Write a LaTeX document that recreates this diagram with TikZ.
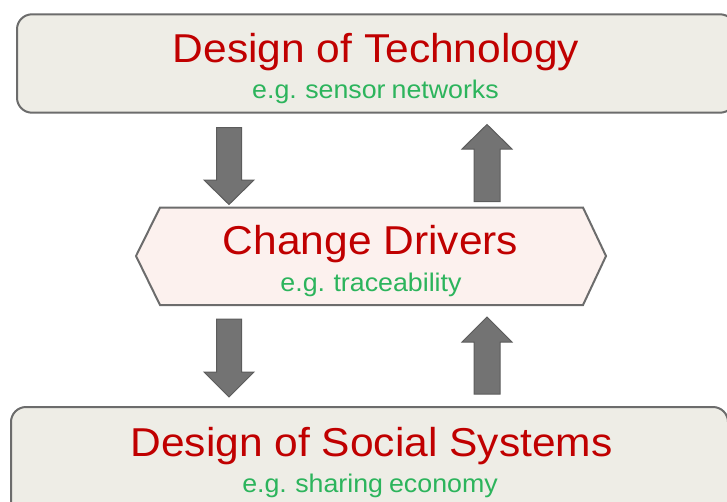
\documentclass[tikz,border=0pt]{standalone}
\usepackage{fontspec}
\setmainfont{Liberation Sans}
\newfontfamily\titlefont[FakeStretch=1.055]{Liberation Sans}
\newfontfamily\subfont[FakeStretch=1.05,WordSpace=0.8]{Liberation Sans}
\definecolor{boxfill}{RGB}{238,237,230}
\definecolor{hexfill}{RGB}{252,241,238}
\definecolor{edgegray}{RGB}{108,108,108}
\definecolor{titlered}{RGB}{192,0,0}
\definecolor{subgreen}{RGB}{44,180,92}
\definecolor{arrowfill}{RGB}{115,115,115}
\definecolor{arrowedge}{RGB}{92,92,92}
\begin{document}
\begin{tikzpicture}[x=1pt,y=-1pt,
  panel/.style={draw=edgegray, line width=2pt, fill=boxfill, rounded corners=15pt, inner sep=0pt},
  hexshape/.style={draw=edgegray, line width=2pt, fill=hexfill, line join=miter},
  titletext/.style={text=titlered, font=\titlefont\fontsize{40.3}{44}\selectfont, inner sep=0pt, anchor=base},
  subtext/.style={text=subgreen, font=\subfont\fontsize{25.5}{28}\selectfont, inner sep=0pt, anchor=base},
  blockarrow/.style={fill=arrowfill, draw=arrowedge, line width=1pt, line join=miter}]
\useasboundingbox (0,0) rectangle (727,501);
\clip (0,0) rectangle (727,501);
% boxes
\node[panel, minimum width=718pt, minimum height=98.4pt] (tech) at (376,63.5) {};
\node[panel, minimum width=717pt, minimum height=110pt] (social) at (369.5,462) {};
% hexagon
\draw[hexshape] (136,256) -- (160,207.5) -- (583,207.5) -- (606,256) -- (583,305) -- (160,305) -- cycle;
% texts
\node[titletext] (techT) at (376,62) {Design of Technology};
\node[subtext] (techS) at (375.5,98) {e.g. sensor networks};
\node[titletext] (drvT) at (370.5,254) {Change Drivers};
\node[subtext] (drvS) at (371,291) {e.g. traceability};
\node[titletext] (socT) at (371.5,456) {Design of Social Systems};
\node[subtext] (socS) at (370,492) {e.g. sharing economy};
% block arrows
\draw[blockarrow] (216.5,127.5) -- (241.5,127.5) -- (241.5,180) -- (254,180) -- (229,204.5) -- (204,180) -- (216.5,180) -- cycle;
\draw[blockarrow] (474,201.5) -- (500,201.5) -- (500,149) -- (512,149) -- (487,124.5) -- (462,149) -- (474,149) -- cycle;
\draw[blockarrow] (216.5,319) -- (241.5,319) -- (241.5,372) -- (254,372) -- (229,397) -- (204,372) -- (216.5,372) -- cycle;
\draw[blockarrow] (474,394) -- (500,394) -- (500,342) -- (512,342) -- (487,317) -- (462,342) -- (474,342) -- cycle;
\end{tikzpicture}
\end{document}
